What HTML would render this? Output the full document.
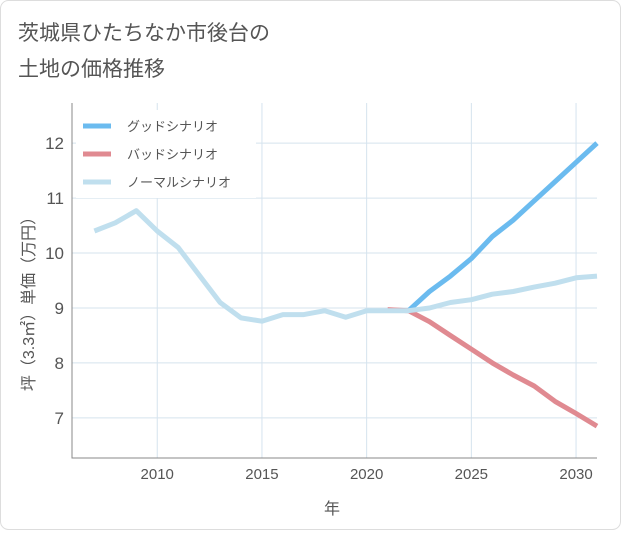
<!DOCTYPE html>
<html><head><meta charset="utf-8"><style>
body{margin:0;background:#fff;}
svg text{font-family:"Liberation Sans","Noto Sans CJK JP",sans-serif;}
</style></head><body>
<svg width="621" height="530" viewBox="0 0 621 530">
<rect x="0.5" y="0.5" width="620" height="529" rx="8" fill="#fff" stroke="#ddd"/>
<text x="18" y="40" font-size="21" fill="#555">茨城県ひたちなか市後台の</text>
<text x="18" y="76" font-size="21" fill="#555">土地の価格推移</text>
<g id="grid"></g>
<g id="marks"></g>
<g id="axes"></g>
<g>
<rect x="76" y="110" width="180" height="88" fill="#fff"/>
<line x1="83" y1="126" x2="111" y2="126" stroke="#6bbbef" stroke-width="5"/>
<text x="127" y="131" font-size="13" fill="#555">グッドシナリオ</text>
<line x1="83" y1="154" x2="111" y2="154" stroke="#e08a91" stroke-width="5"/>
<text x="127" y="159" font-size="13" fill="#555">バッドシナリオ</text>
<line x1="83" y1="182" x2="111" y2="182" stroke="#c0dfee" stroke-width="5"/>
<text x="127" y="187" font-size="13" fill="#555">ノーマルシナリオ</text>
</g>
<text x="332" y="514" font-size="16" fill="#555" text-anchor="middle">年</text>
<text transform="translate(34,300) rotate(-90)" font-size="16" fill="#555" text-anchor="middle">坪（3.3㎡）単価（万円）</text>
</svg>
<script>
const normalYears=[2007,2008,2009,2010,2011,2012,2013,2014,2015,2016,2017,2018,2019,2020,2021,2022,2023,2024,2025,2026,2027,2028,2029,2030,2031];
const normalValues=[10.4,10.55,10.77,10.4,10.1,9.6,9.1,8.82,8.76,8.88,8.88,8.95,8.83,8.95,8.95,8.95,9.0,9.1,9.15,9.25,9.3,9.38,9.45,9.55,9.58];
const goodYears=[2022,2023,2024,2025,2026,2027,2028,2029,2030,2031];
const goodValues=[8.95,9.3,9.58,9.9,10.3,10.6,10.95,11.3,11.65,12.0];
const badYears=[2021,2022,2023,2024,2025,2026,2027,2028,2029,2030,2031];
const badValues=[8.97,8.95,8.75,8.5,8.25,8.0,7.78,7.58,7.3,7.08,6.85];
const xTicks=[2010,2015,2020,2025,2030];
const yTicks=[7,8,9,10,11,12];
const L=72,R=597,T=103,B=458,x0=2005.93,x1=2031,y0=6.27,y1=12.73;
const sx=v=>L+(v-x0)/(x1-x0)*(R-L);
const sy=v=>B-(v-y0)/(y1-y0)*(B-T);
const NS="http://www.w3.org/2000/svg";
function mk(tag,attrs,parent){const e=document.createElementNS(NS,tag);for(const k in attrs)e.setAttribute(k,attrs[k]);parent.appendChild(e);return e;}
const grid=document.getElementById('grid'),marks=document.getElementById('marks'),axes=document.getElementById('axes');
for(const t of xTicks){
 const g=mk('line',{x1:sx(t),x2:sx(t),y1:T,y2:B,stroke:'#d5e3ee','stroke-width':1},grid);
 
 
 const tx=mk('text',{x:sx(t),y:B+21,'font-size':15,fill:'#555','text-anchor':'middle'},axes);
 tx.textContent=t;
 
 
}
for(const t of yTicks){
 const g=mk('line',{x1:L,x2:R,y1:sy(t),y2:sy(t),stroke:'#d5e3ee','stroke-width':1},grid);
 
 
 const tx=mk('text',{x:L-8,y:sy(t)+6,'font-size':17,fill:'#555','text-anchor':'end'},axes);
 tx.textContent=t;
 
 
}
const ax=mk('path',{d:`M${L},${T}V${B}H${R}`,fill:'none',stroke:'#888','stroke-width':1},axes);


function line(xs,ys,color,name){
 const d=xs.map((x,i)=>(i?'L':'M')+sx(x).toFixed(1)+','+sy(ys[i]).toFixed(1)).join('');
 const p=mk('path',{d,fill:'none',stroke:color,'stroke-width':5,'stroke-linejoin':'round'},marks);
 
 
}
line(badYears,badValues,'#e08a91','bad-scenario-line');
line(goodYears,goodValues,'#6bbbef','good-scenario-line');
line(normalYears,normalValues,'#c0dfee','normal-scenario-line');
</script>
</body></html>
